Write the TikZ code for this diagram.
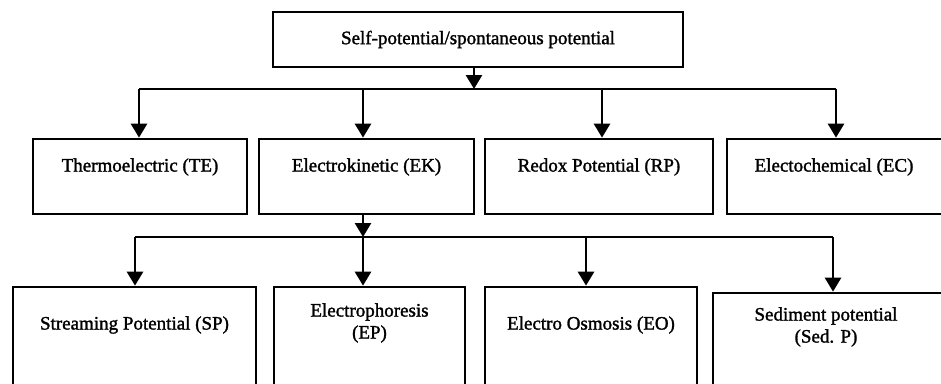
\documentclass[tikz,border=0pt]{standalone}
\usepackage{fontspec}
\setmainfont{Liberation Serif}[FakeBold=1.5]
\usetikzlibrary{arrows.meta}
\begin{document}
\begin{tikzpicture}[x=1pt,y=-1pt,
  box/.style={draw=black, line width=2.7pt, rectangle, inner sep=0pt},
  lbl/.style={font=\fontsize{19}{22}\selectfont, align=center, inner sep=0pt, anchor=center},
  link/.style={line width=2.7pt},
  arr/.style={line width=2.7pt, -{Triangle[width=16pt,length=14pt]}}]
\useasboundingbox (0,0) rectangle (941,383);
\clip (0,0) rectangle (941,383);
% boxes
\node[box, minimum width=410pt, minimum height=55pt] (top) at (478,39.5) {};
\node[box, minimum width=214pt, minimum height=75pt] (te) at (140,176.5) {};
\node[box, minimum width=215pt, minimum height=75pt] (ek) at (366.5,176.5) {};
\node[box, minimum width=228pt, minimum height=75pt] (rp) at (599,176.5) {};
\node[box, minimum width=230pt, minimum height=75pt] (ec) at (842,176.5) {};
\node[box, minimum width=243pt, minimum height=110pt] (sp) at (134.5,342) {};
\node[box, minimum width=191pt, minimum height=110pt] (ep) at (369.5,342) {};
\node[box, minimum width=212pt, minimum height=110pt] (eo) at (591,342) {};
\node[box, minimum width=237pt, minimum height=104pt] (sed) at (831.5,345) {};
% labels
\node[lbl] (topL) at (478,39.5) {Self-potential/spontaneous potential};
\node[lbl] (teL) at (140,167) {Thermoelectric (TE)};
\node[lbl] (ekL) at (366.5,167) {Electrokinetic (EK)};
\node[lbl] (rpL) at (599,167) {Redox Potential (RP)};
\node[lbl] (ecL) at (834,167) {Electochemical (EC)};
\node[lbl] (spL) at (134.5,325) {Streaming Potential (SP)};
\node[lbl] (epL) at (369.5,323) {Electrophoresis\\(EP)};
\node[lbl] (eoL) at (591,325) {Electro Osmosis (EO)};
\node[lbl] (sedL) at (826,327) {Sediment potential\\(Sed. P)};
% bus coordinates
\coordinate (b1) at (474,89);
\coordinate (b1a) at (139,89);
\coordinate (b1b) at (363,89);
\coordinate (b1c) at (602,89);
\coordinate (b1d) at (836,89);
\coordinate (b2) at (363,237);
\coordinate (b2a) at (135,237);
\coordinate (b2b) at (363,237);
\coordinate (b2c) at (586,237);
\coordinate (b2d) at (833,237);
% connectors
\draw[arr] (top.south -| b1) -- (b1);
\draw[link] (b1a) -- (b1d);
\draw[arr] (b1a) -- (b1a |- te.north);
\draw[arr] (b1b) -- (b1b |- ek.north);
\draw[arr] (b1c) -- (b1c |- rp.north);
\draw[arr] (b1d) -- (b1d |- ec.north);
\draw[arr] (ek.south -| b2) -- (b2);
\draw[link] (b2a) -- (b2d);
\draw[arr] (b2a) -- (b2a |- sp.north);
\draw[arr] (b2b) -- (b2b |- ep.north);
\draw[arr] (b2c) -- (b2c |- eo.north);
\draw[arr] (b2d) -- (b2d |- sed.north);
\end{tikzpicture}
\end{document}
